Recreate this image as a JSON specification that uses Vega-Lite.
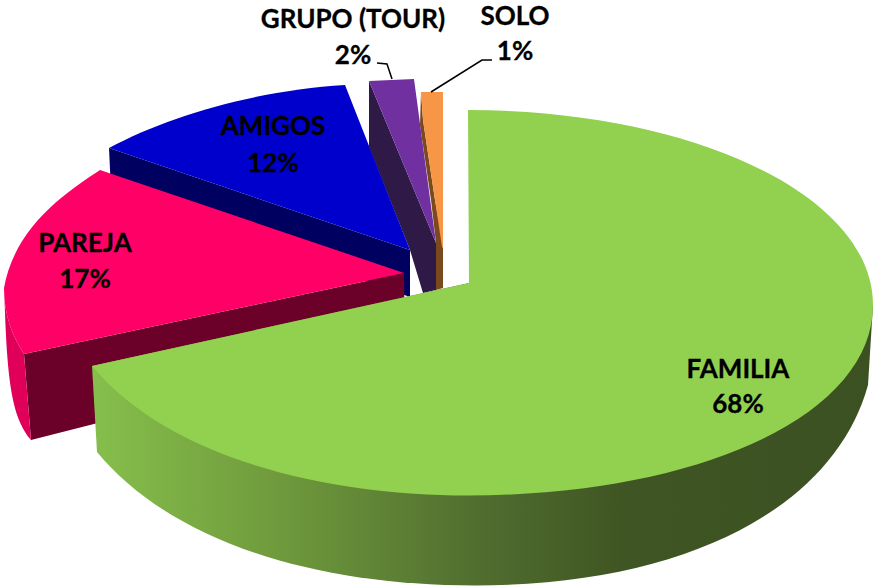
{
  "$schema": "https://vega.github.io/schema/vega-lite/v6.json",
  "width": 877,
  "height": 586,
  "padding": 0,
  "autosize": {"type": "fit", "contains": "padding"},
  "background": "white",
  "config": {"view": {"stroke": null}},
  "data": {"values": [
    {"category": "SOLO", "value": 1, "label": "SOLO\n1%"},
    {"category": "GRUPO (TOUR)", "value": 2, "label": "GRUPO (TOUR)\n2%"},
    {"category": "AMIGOS", "value": 12, "label": "AMIGOS\n12%"},
    {"category": "PAREJA", "value": 17, "label": "PAREJA\n17%"},
    {"category": "FAMILIA", "value": 68, "label": "FAMILIA\n68%"}
  ]},
  "layer": [
    {
      "transform": [{"filter": {"field": "category", "oneOf": ["SOLO", "GRUPO (TOUR)", "AMIGOS", "PAREJA"]}}],
      "mark": {"type": "point", "filled": true, "opacity": 1, "strokeWidth": 0, "size": 4},
      "encoding": {
        "shape": {"field": "category", "type": "nominal", "legend": null, "scale": {
          "domain": ["SOLO", "GRUPO (TOUR)", "AMIGOS", "PAREJA"],
          "range": [
            "M-17.5 -201 L-18.5 -168 L-7.5 -93 L-2.5 -50 L-2.5 -3 L4.5 -5 L4.5 -48 L-3.5 -93 L-15.5 -173 Z",
            "M-69.5 -212 L-2.5 -50 L-2.5 -3 L-15.5 0 L-28.5 -43 L-69.5 -146 Z",
            "M-329.5 -145 L-28.5 -43 L-28.5 4 L-327.5 -103 Z",
            "M-414.5 61 L-34.5 -20 L-33.5 52 L-407.5 147 Z"
          ]}},
        "color": {"field": "category", "type": "nominal", "legend": null, "scale": {
          "domain": ["SOLO", "GRUPO (TOUR)", "AMIGOS", "PAREJA"],
          "range": ["#7a4a1e", "#2f1a47", "#000060", "#6b0029"]}}
      }
    },
    {
      "transform": [{"filter": {"field": "category", "equal": "PAREJA"}}],
      "mark": {"type": "point", "filled": true, "opacity": 1, "strokeWidth": 0, "size": 4, "fill": "#e0005a"},
      "encoding": {
        "shape": {"field": "category", "type": "nominal", "legend": null, "scale": {
          "domain": ["PAREJA"],
          "range": ["M-434.5 -5 C-434.5 22 -426.5 42 -414.5 61 L-407.5 147 C-423.5 127 -430.5 102 -433.5 20 Z"]}}
      }
    },
    {
      "transform": [{"filter": {"field": "category", "oneOf": ["SOLO", "GRUPO (TOUR)", "AMIGOS", "PAREJA"]}}],
      "mark": {"type": "point", "filled": true, "opacity": 1, "strokeWidth": 0, "size": 4},
      "encoding": {
        "shape": {"field": "category", "type": "nominal", "legend": null, "scale": {
          "domain": ["SOLO", "GRUPO (TOUR)", "AMIGOS", "PAREJA"],
          "range": [
            "M-17.5 -201 L4.5 -201 L4.5 -45 L3.5 -46 L-15.5 -173 Z",
            "M-69.5 -212 L-24.5 -214 L-2.5 -50 Z",
            "M-329.5 -145 C-268.5 -178 -178.5 -203 -93.5 -208 L-28.5 -43 Z",
            "M-338.5 -123 C-368.5 -103 -423.5 -68 -434.5 -5 C-434.5 22 -426.5 42 -414.5 61 L-34.5 -20 Z"
          ]}},
        "color": {"field": "category", "type": "nominal", "legend": null, "scale": {
          "domain": ["SOLO", "GRUPO (TOUR)", "AMIGOS", "PAREJA"],
          "range": ["#f79646", "#7030a0", "#0000cc", "#ff0066"]}}
      }
    },
    {
      "transform": [{"filter": {"field": "category", "equal": "FAMILIA"}}],
      "mark": {"type": "point", "filled": true, "opacity": 1, "strokeWidth": 0, "size": 4,
        "fill": {"gradient": "linear", "x1": 0, "y1": 0, "x2": 1, "y2": 0, "stops": [
          {"offset": 0, "color": "#86bf4c"},
          {"offset": 0.24, "color": "#6f9a3c"},
          {"offset": 0.48, "color": "#527030"},
          {"offset": 0.68, "color": "#3f5523"},
          {"offset": 1, "color": "#3c5122"}
        ]}},
      "encoding": {
        "shape": {"field": "category", "type": "nominal", "legend": null, "scale": {
          "domain": ["FAMILIA"],
          "range": ["M-346.5 73 L-341.5 159 C-268.5 247 -128.5 292.5 36.5 292.5 C251.5 292.5 396.5 212 429.5 92 L434.5 12 L30.5 -10 Z"]}}
      }
    },
    {
      "transform": [{"filter": {"field": "category", "equal": "FAMILIA"}}],
      "mark": {"type": "point", "filled": true, "opacity": 1, "strokeWidth": 0, "size": 4, "fill": "#92d050"},
      "encoding": {
        "shape": {"field": "category", "type": "nominal", "legend": null, "scale": {
          "domain": ["FAMILIA"],
          "range": ["M29.5 -183 C253.5 -183 434.5 -98 434.5 12 C434.5 122 261.5 202.5 28.5 202.5 C-108.5 202.5 -268.5 167 -346.5 73 L30.5 -10 Z"]}}
      }
    },
    {
      "transform": [{"filter": {"field": "category", "oneOf": ["SOLO", "GRUPO (TOUR)"]}}],
      "mark": {"type": "point", "filled": false, "opacity": 1, "stroke": "#000000", "strokeWidth": 1.5, "size": 4},
      "encoding": {
        "shape": {"field": "category", "type": "nominal", "legend": null, "scale": {
          "domain": ["SOLO", "GRUPO (TOUR)"],
          "range": ["M53.5 -233 L43.5 -233 L-7.5 -201", "M-61.5 -230 L-51.5 -229 L-46.5 -214"]}}
      }
    },
    {
      "transform": [{"filter": {"field": "category", "equal": "FAMILIA"}}],
      "mark": {"type": "text", "font": "Lato", "fontWeight": "bold", "fontSize": 26, "fill": "#000000", "stroke": "#000000", "strokeWidth": 0.3, "align": "center", "baseline": "alphabetic", "lineBreak": "\n", "lineHeight": 35, "dx": 299.5, "dy": 85},
      "encoding": {"text": {"field": "label", "type": "nominal"}}
    },
    {
      "transform": [{"filter": {"field": "category", "equal": "PAREJA"}}],
      "mark": {"type": "text", "font": "Lato", "fontWeight": "bold", "fontSize": 26, "fill": "#000000", "stroke": "#000000", "strokeWidth": 0.3, "align": "center", "baseline": "alphabetic", "lineBreak": "\n", "lineHeight": 36, "dx": -353.5, "dy": -41},
      "encoding": {"text": {"field": "label", "type": "nominal"}}
    },
    {
      "transform": [{"filter": {"field": "category", "equal": "AMIGOS"}}],
      "mark": {"type": "text", "font": "Lato", "fontWeight": "bold", "fontSize": 26, "fill": "#000000", "stroke": "#000000", "strokeWidth": 0.3, "align": "center", "baseline": "alphabetic", "lineBreak": "\n", "lineHeight": 37, "dx": -165.5, "dy": -158},
      "encoding": {"text": {"field": "label", "type": "nominal"}}
    },
    {
      "transform": [{"filter": {"field": "category", "equal": "GRUPO (TOUR)"}}],
      "mark": {"type": "text", "font": "Lato", "fontWeight": "bold", "fontSize": 26, "fill": "#000000", "stroke": "#000000", "strokeWidth": 0.3, "align": "center", "baseline": "alphabetic", "lineBreak": "\n", "lineHeight": 36, "dx": -85.5, "dy": -265},
      "encoding": {"text": {"field": "label", "type": "nominal"}}
    },
    {
      "transform": [{"filter": {"field": "category", "equal": "SOLO"}}],
      "mark": {"type": "text", "font": "Lato", "fontWeight": "bold", "fontSize": 26, "fill": "#000000", "stroke": "#000000", "strokeWidth": 0.3, "align": "center", "baseline": "alphabetic", "lineBreak": "\n", "lineHeight": 35, "dx": 76.5, "dy": -268},
      "encoding": {"text": {"field": "label", "type": "nominal"}}
    }
  ],
  "resolve": {"scale": {"shape": "independent", "color": "independent"}}
}
